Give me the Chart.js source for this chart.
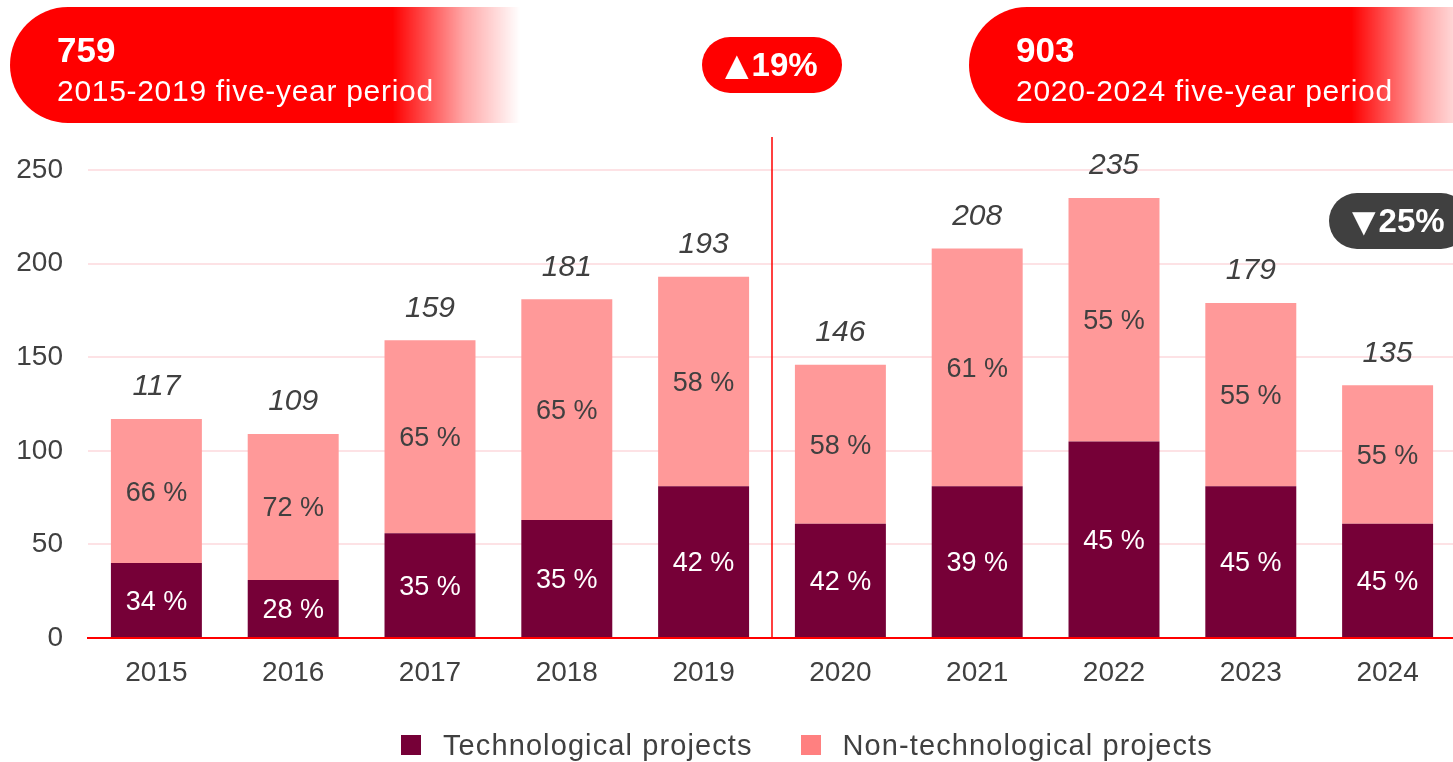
<!DOCTYPE html>
<html lang="en">
<head>
    <meta charset="UTF-8">
    <title>Projects 2015-2024</title>
    <script src="https://cdn.jsdelivr.net/npm/chart.js"></script>
    <style>
        html, body { margin: 0; padding: 0; background: #fff; overflow: hidden; }
        body { width: 1453px; height: 762px; position: relative; font-family: "Liberation Sans", Arial, sans-serif; }
        #chart { position: absolute; left: 0; top: 0; }
        .banner { position: absolute; top: 7px; width: 510px; height: 116px; border-radius: 58px 0 0 58px; color: #fff;
                  background: linear-gradient(to right, #ff0000 0%, #ff0000 75%, rgba(255, 0, 0, 0.35) 89%, rgba(255, 0, 0, 0) 100%); }
        .banner .big { position: absolute; left: 47px; top: 25px; font-size: 35px; line-height: 35px; font-weight: bold; }
        .banner .sub { position: absolute; left: 47px; top: 69px; font-size: 30px; line-height: 30px; letter-spacing: 0.7px; white-space: nowrap; }
        .badge { position: absolute; height: 56px; border-radius: 28px; color: #fff; font-weight: bold; font-size: 33px;
                 display: flex; align-items: center; padding-left: 15px; box-sizing: border-box; white-space: nowrap; }
        .badge .arrow { font-size: 40px; line-height: 40px; margin-right: -5px; }
        #legend { position: absolute; left: 401px; top: 731px; display: flex; font-size: 29px; line-height: 28px; letter-spacing: 1.1px; color: #404040; }
        #legend .item { display: flex; align-items: center; margin-right: 48px; white-space: nowrap; }
        #legend .swatch { width: 20px; height: 20px; margin-right: 22px; }
    </style>
</head>
<body>

    <canvas id="chart" width="1460" height="762"></canvas>
    <div id="banners"></div>
    <div id="legend"></div>

    <script>
        const years = ["2015", "2016", "2017", "2018", "2019", "2020", "2021", "2022", "2023", "2024"];
        const techProjects = [40, 31, 56, 63, 81, 61, 81, 105, 81, 61];
        const nonTechProjects = [77, 78, 103, 118, 112, 85, 127, 130, 98, 74];
        const techShare = [34, 28, 35, 35, 42, 42, 39, 45, 45, 45];
        const nonTechShare = [66, 72, 65, 65, 58, 58, 61, 55, 55, 55];
        const yTicks = [0, 50, 100, 150, 200, 250];
        const periodLabels = ["2015-2019 five-year period", "2020-2024 five-year period"];
        const periodStart = [0, 5];

        const seriesNames = ["Technological projects", "Non-technological projects"];
        const barColors = ["#760037", "#ff9999"];
        const legendColors = ["#760037", "#ff8080"];
        const textColor = "#404040";
        const font = '"Liberation Sans", Arial, sans-serif';

        const totals = years.map((y, i) => techProjects[i] + nonTechProjects[i]);
        const periodTotals = periodStart.map((s, p) => {
            const end = p + 1 < periodStart.length ? periodStart[p + 1] : years.length;
            return totals.slice(s, end).reduce((a, b) => a + b, 0);
        });

        // banners and badges
        const banners = document.getElementById("banners");
        const bannerLeft = [10, 969];
        periodLabels.forEach((label, p) => {
            const div = document.createElement("div");
            div.className = "banner";
            div.style.left = bannerLeft[p] + "px";
            div.innerHTML = '<span class="big">' + periodTotals[p] + '</span><span class="sub">' + label + '</span>';
            banners.appendChild(div);
        });

        function addBadge(text, up, left, top, color) {
            const div = document.createElement("div");
            div.className = "badge";
            div.style.left = left + "px";
            div.style.top = top + "px";
            div.style.width = "140px";
            div.style.background = color;
            div.innerHTML = '<span class="arrow">' + (up ? "▲" : "▼") + '</span>' + text;
            banners.appendChild(div);
        }
        const periodChange = Math.round((periodTotals[1] / periodTotals[0] - 1) * 100);
        const lastChange = Math.round((totals[totals.length - 1] / totals[totals.length - 2] - 1) * 100);
        addBadge(Math.abs(periodChange) + "%", periodChange >= 0, 702, 37, "#ff0000");
        addBadge(Math.abs(lastChange) + "%", lastChange >= 0, 1329, 193, "#404040");

        // legend
        const legend = document.getElementById("legend");
        seriesNames.forEach((name, i) => {
            const item = document.createElement("div");
            item.className = "item";
            item.innerHTML = '<span class="swatch" style="background:' + legendColors[i] + '"></span>' + name;
            legend.appendChild(item);
        });

        const dividerPlugin = {
            id: "divider",
            afterDatasetsDraw(chart) {
                const x = chart.scales.x;
                const px = (x.getPixelForValue(periodStart[1] - 1) + x.getPixelForValue(periodStart[1])) / 2;
                const ctx = chart.ctx;
                ctx.save();
                ctx.strokeStyle = "#ff0000";
                ctx.lineWidth = 1.5;
                ctx.beginPath();
                ctx.moveTo(px, 137);
                ctx.lineTo(px, chart.chartArea.bottom);
                ctx.stroke();
                ctx.restore();
            }
        };

        const labelPlugin = {
            id: "barLabels",
            afterDatasetsDraw(chart) {
                const ctx = chart.ctx;
                const shares = [techShare, nonTechShare];
                ctx.save();
                ctx.textAlign = "center";
                ctx.textBaseline = "middle";
                ctx.font = "27px " + font;
                chart.data.datasets.forEach((ds, i) => {
                    chart.getDatasetMeta(i).data.forEach((bar, j) => {
                        ctx.fillStyle = i === 0 ? "#ffffff" : textColor;
                        ctx.fillText(shares[i][j] + " %", bar.x, (bar.y + bar.base) / 2 + 2);
                    });
                });
                ctx.font = "italic 30px " + font;
                ctx.fillStyle = textColor;
                chart.getDatasetMeta(1).data.forEach((bar, j) => {
                    ctx.fillText(totals[j], bar.x, bar.y - 32);
                });
                ctx.restore();
            }
        };

        const ctx = document.getElementById("chart").getContext("2d");
        new Chart(ctx, {
            type: "bar",
            data: {
                labels: years,
                datasets: [
                    { label: seriesNames[0], data: techProjects, backgroundColor: barColors[0] },
                    { label: seriesNames[1], data: nonTechProjects, backgroundColor: barColors[1] }
                ]
            },
            options: {
                responsive: false,
                animation: false,
                devicePixelRatio: 1,
                categoryPercentage: 1,
                barPercentage: 0.665,
                layout: { padding: { top: 170, bottom: 64, left: 0, right: 4 } },
                plugins: { legend: { display: false }, tooltip: { enabled: false } },
                scales: {
                    x: {
                        stacked: true,
                        grid: { color: "rgba(0,0,0,0)", drawTicks: false },
                        border: { display: true, color: "#ff0000", width: 2 },
                        ticks: { color: textColor, font: { family: font, size: 28 }, padding: 18 },
                        afterFit(scale) { scale.height = 60; }
                    },
                    y: {
                        stacked: true,
                        min: 0,
                        max: 250,
                        grid: {
                            color: c => c.tick && c.tick.value === 0 ? "rgba(0,0,0,0)" : "#fde2e5",
                            lineWidth: 2,
                            drawTicks: false
                        },
                        border: { display: false },
                        ticks: { color: textColor, font: { family: font, size: 28 }, padding: 25 },
                        afterBuildTicks(scale) { scale.ticks = yTicks.map(v => ({ value: v })); },
                        afterFit(scale) { scale.width = 88; }
                    }
                }
            },
            plugins: [dividerPlugin, labelPlugin]
        });
    </script>

</body>
</html>
